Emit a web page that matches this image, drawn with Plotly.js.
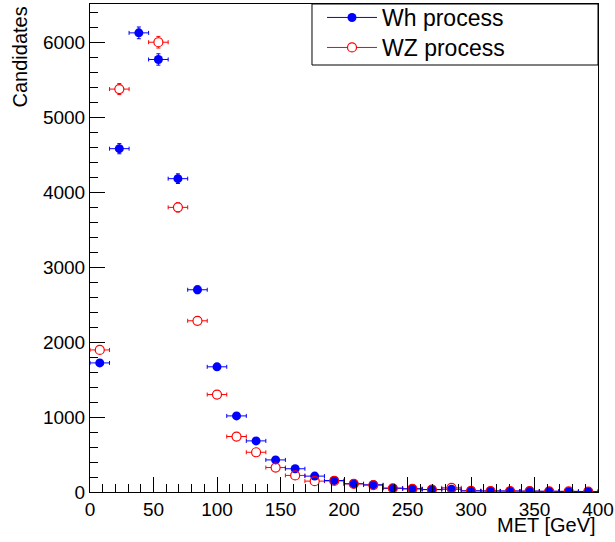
<!DOCTYPE html>
<html>
<head>
<meta charset="utf-8">
<script src="https://cdn.plot.ly/plotly-3.0.1.min.js"></script>
<style>html,body{margin:0;padding:0;background:#fff;}#plot{width:615px;height:542px;}</style>
</head>
<body>
<div id="plot"></div>
<script>
// Bin centres of MET histogram (26 bins from 0 to 400 GeV)
var binCenters = [7.69, 23.08, 38.46, 53.85, 69.23, 84.62, 100, 115.38, 130.77, 146.15, 161.54, 176.92, 192.31, 207.69, 223.08, 238.46, 253.85, 269.23, 284.62, 300, 315.38, 330.77, 346.15, 361.54, 376.92, 392.31];
var halfBinWidth = 7.69;
// Candidates per bin
var whValues = [1722, 4580, 6125, 5770, 4180, 2698, 1670, 1015, 682, 428, 310, 212, 153, 110, 96, 51, 43, 33, 37, 16, 14, 14, 12, 10, 8, 7];
var wzValues = [1895, 5375, null, 6000, 3797, 2284, 1300, 740, 530, 326, 221, 145, 148, 108, 92, 50, 42, 32, 56, 15, 13, 12, 11, 9, 8, 6];
var seriesNames = ["Wh process", "WZ process"];
var xTicks = [0, 50, 100, 150, 200, 250, 300, 350, 400];
var yTicks = [0, 1000, 2000, 3000, 4000, 5000, 6000];

var FONT = "Liberation Sans, Arial, Helvetica, sans-serif";
var BLUE = "#0000ff", RED = "#ff0000";

var traces = [
  // WZ error bars, with a white disc hiding the bars inside the open circle
  {
    x: binCenters, y: wzValues, type: "scatter", mode: "markers", showlegend: false,
    marker: {color: "#ffffff", size: 9, symbol: "circle", line: {width: 0}},
    error_x: {type: "constant", value: halfBinWidth, color: RED, thickness: 1, width: 2},
    error_y: {type: "sqrt", color: RED, thickness: 1, width: 2},
    cliponaxis: true
  },
  // Wh
  {
    x: binCenters, y: whValues, type: "scatter", mode: "markers", showlegend: false,
    marker: {color: BLUE, size: 9, symbol: "circle"},
    error_x: {type: "constant", value: halfBinWidth, color: BLUE, thickness: 1, width: 2},
    error_y: {type: "sqrt", color: BLUE, thickness: 1, width: 2},
    cliponaxis: true
  },
  // WZ open circles on top
  {
    x: binCenters, y: wzValues, type: "scatter", mode: "markers", showlegend: false,
    marker: {color: RED, size: 9, symbol: "circle-open", line: {width: 1.2, color: RED}},
    cliponaxis: true
  },
  {
    x: [null], y: [null], type: "scatter", mode: "lines+markers", name: seriesNames[0], legend: "legend",
    line: {color: BLUE, width: 1}, marker: {color: BLUE, size: 9, symbol: "circle"}
  },
  {
    x: [null], y: [null], type: "scatter", mode: "lines+markers", name: seriesNames[1], legend: "legend2",
    line: {color: RED, width: 1}, marker: {color: "#ffffff", size: 9, symbol: "circle", line: {width: 1.2, color: RED}}
  }
];

var legendCommon = {
  xanchor: "left", yanchor: "top",
  bgcolor: "rgba(0,0,0,0)", borderwidth: 0,
  font: {family: FONT, size: 23, color: "#000"},
  tracegroupgap: 0, itemwidth: 50
};

var layout = {
  width: 615, height: 542,
  margin: {l: 90, r: 17, t: 4, b: 50, pad: 0, autoexpand: false},
  paper_bgcolor: "#ffffff", plot_bgcolor: "#ffffff",
  font: {family: FONT, color: "#000", size: 19},
  showlegend: true,
  legend: Object.assign({x: 0.4567, y: 1.0164}, legendCommon),
  legend2: Object.assign({x: 0.4567, y: 0.9549}, legendCommon),
  xaxis: {
    range: [0, 400], tickvals: xTicks, ticktext: xTicks.map(String),
    ticks: "inside", ticklen: 15, tickwidth: 1, tickcolor: "#000",
    ticklabeloverflow: "allow",
    minor: {dtick: 10, tick0: 0, ticks: "inside", ticklen: 8, tickwidth: 1, tickcolor: "#000", showgrid: false},
    showline: true, linecolor: "#000", linewidth: 1, mirror: true,
    showgrid: false, zeroline: false,
    tickfont: {family: FONT, size: 19, color: "#000"}
  },
  yaxis: {
    range: [0, 6510], tickvals: yTicks, ticktext: yTicks.map(String),
    ticks: "inside", ticklen: 15, tickwidth: 1, tickcolor: "#000",
    minor: {dtick: 200, tick0: 0, ticks: "inside", ticklen: 8, tickwidth: 1, tickcolor: "#000", showgrid: false},
    showline: true, linecolor: "#000", linewidth: 1, mirror: true,
    showgrid: false, zeroline: false,
    tickfont: {family: FONT, size: 19, color: "#000"}
  },
  shapes: [
    {type: "rect", xref: "paper", yref: "paper", x0: 0.437, x1: 1.0, y0: 0.875, y1: 1.0,
     line: {color: "#000", width: 1}, fillcolor: "rgba(0,0,0,0)"}
  ],
  annotations: [
    {text: "MET [GeV]", xref: "paper", yref: "paper", x: 1.0, y: -0.0676, xanchor: "right", yanchor: "middle",
     showarrow: false, font: {family: FONT, size: 20, color: "#000"}},
    {text: "Candidates", xref: "paper", yref: "paper", x: -0.1378, y: 1.0, xanchor: "center", yanchor: "top",
     textangle: -90, showarrow: false, font: {family: FONT, size: 20, color: "#000"}}
  ]
};

Plotly.newPlot("plot", traces, layout, {displayModeBar: false, staticPlot: true});
</script>
</body>
</html>
